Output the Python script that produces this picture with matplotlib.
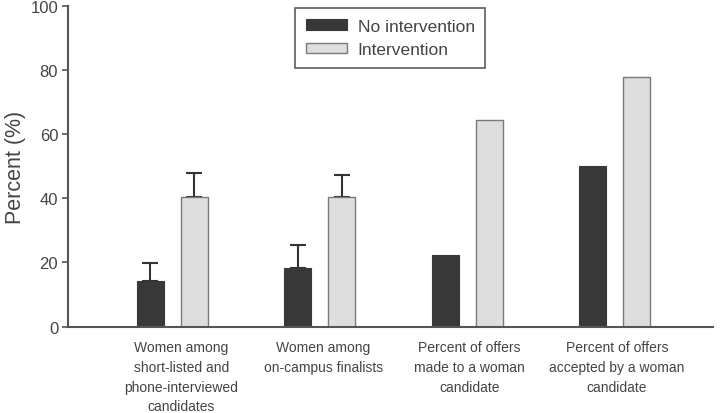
import numpy as np
import matplotlib.pyplot as plt

plt.rcParams['font.family'] = ['Liberation Sans', 'DejaVu Sans']

categories = ['Women among\nshort-listed and\nphone-interviewed\ncandidates',
              'Women among\non-campus finalists',
              'Percent of offers\nmade to a woman\ncandidate',
              'Percent of offers\naccepted by a woman\ncandidate']
no_interv = [14.3, 18.3, 22.3, 50.0]
no_interv_err = [5.4, 7.3, 0, 0]
interv = [40.5, 40.3, 64.4, 77.8]
interv_err = [7.4, 7.1, 0, 0]

x = np.arange(len(categories))
w = 0.183
off = 0.149
label_shift = np.array([0.06, 0.024, 0.014, 0.014])  # labels sit a bit right of the bars
gray = '#555555'

fig = plt.figure(figsize=(7.2, 4.14), dpi=100)
ax = fig.add_axes([0.0944, 0.2085, 0.8956, 0.7753])

ax.bar(x - off, no_interv, w, color='#383838', edgecolor='#383838',
       linewidth=0.8, label='No intervention', zorder=2)
ax.bar(x + off, interv, w, color='#dedede', edgecolor='#7a7a7a',
       linewidth=1.0, label='Intervention', zorder=2)

# only upper error bars, only where shown
for xi, v, e in zip(x - off, no_interv, no_interv_err):
    if e > 0:
        ax.errorbar(xi, v, yerr=[[0], [e]], fmt='none', ecolor='#333333',
                    elinewidth=1.5, capsize=5.5, capthick=1.5, zorder=1)
for xi, v, e in zip(x + off, interv, interv_err):
    if e > 0:
        ax.errorbar(xi, v, yerr=[[0], [e]], fmt='none', ecolor='#333333',
                    elinewidth=1.5, capsize=5.5, capthick=1.5, zorder=1)

ax.set_xlim(-0.708, 3.664)
ax.set_ylim(0, 100)
ax.set_yticks(np.arange(0, 101, 20))
ax.set_xticks(x + label_shift)
ax.set_xticklabels(categories, fontsize=10, color='#444444', linespacing=1.53)
ax.tick_params(axis='x', length=0, pad=9.5)
ax.tick_params(axis='y', direction='out', length=4, width=1.2, color=gray,
               labelsize=12, labelcolor='#444444', pad=3)
ax.set_ylabel('Percent (%)', fontsize=15.5, color='#444444', labelpad=3)

for s in ['top', 'right']:
    ax.spines[s].set_visible(False)
for s in ['left', 'bottom']:
    ax.spines[s].set_color(gray)
    ax.spines[s].set_linewidth(1.5)

leg = ax.legend(loc='upper center', bbox_to_anchor=(0.5, 1.0), fontsize=12.5,
                frameon=True, fancybox=False, edgecolor='#333333',
                handlelength=2.4, handleheight=0.55, borderpad=0.6,
                labelspacing=0.5, handletextpad=0.6, borderaxespad=0.15)
leg.get_frame().set_linewidth(1.2)
for t in leg.get_texts():
    t.set_color('#444444')

fig.savefig('out.png', dpi=100)
